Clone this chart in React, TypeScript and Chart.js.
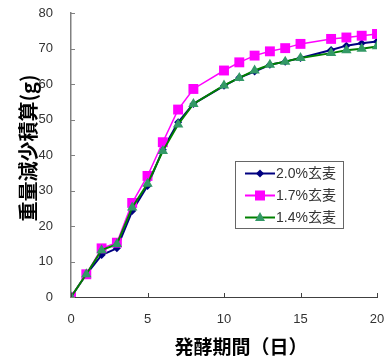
import { useEffect, useRef } from 'react';
import { Chart, registerables } from 'chart.js';

Chart.register(...registerables);

const days = [0, 1, 2, 3, 4, 5, 6, 7, 8, 10, 11, 12, 13, 14, 15, 17, 18, 19, 20];
const series20 = [0, 6.4, 11.8, 13.7, 24.2, 31.3, 41.5, 49.2, 54.4, 59.5, 61.8, 63.5, 65.4, 66.3, 67.3, 69.6, 70.8, 71.5, 72.0];
const series17 = [0, 6.4, 13.7, 15.3, 26.5, 34.1, 43.6, 52.8, 58.6, 63.8, 66.1, 68.0, 69.2, 70.1, 71.3, 72.7, 73.1, 73.6, 74.1];
const series14 = [0, 6.4, 13.2, 14.9, 25.2, 31.9, 41.1, 48.6, 54.4, 59.6, 61.7, 63.8, 65.4, 66.3, 67.3, 68.7, 69.5, 69.9, 70.6];
const seriesLabels = ['2.0%玄麦', '1.7%玄麦', '1.4%玄麦'];
const xTicks = [0, 5, 10, 15, 20];
const yTicks = [0, 10, 20, 30, 40, 50, 60, 70, 80];
const xTitle = '発酵期間（日）';
const yTitle = '重量減少積算(g)';

const styles = [
  { line: '#000080', fill: '#000080', shape: 'diamond' },
  { line: '#FF00FF', fill: '#FF00FF', shape: 'square' },
  { line: '#008000', fill: '#339966', shape: 'triangle' },
];

function drawMarker(ctx: CanvasRenderingContext2D, shape: string, cx: number, cy: number, fill: string) {
  ctx.fillStyle = fill;
  ctx.beginPath();
  if (shape === 'diamond') {
    ctx.moveTo(cx, cy - 4); ctx.lineTo(cx + 4, cy); ctx.lineTo(cx, cy + 4); ctx.lineTo(cx - 4, cy);
  } else if (shape === 'square') {
    ctx.rect(cx - 5, cy - 5, 10, 10);
  } else {
    ctx.moveTo(cx, cy - 5.5); ctx.lineTo(cx + 5, cy + 3.5); ctx.lineTo(cx - 5, cy + 3.5);
  }
  ctx.closePath();
  ctx.fill();
}

const overlay = {
  id: 'overlay',
  afterDraw(chart: any) {
    const ctx: CanvasRenderingContext2D = chart.ctx;
    const xs = chart.scales.x;
    const ys = chart.scales.y;
    const area = chart.chartArea;
    ctx.save();
    ctx.lineWidth = 1;
    ctx.strokeStyle = '#808080';
    yTicks.forEach((v) => {
      const py = Math.round(ys.getPixelForValue(v)) + 0.5;
      ctx.beginPath(); ctx.moveTo(area.left, py); ctx.lineTo(area.left + 4, py); ctx.stroke();
    });
    ctx.strokeStyle = '#404040';
    xTicks.forEach((v) => {
      const px = Math.round(xs.getPixelForValue(v)) + 0.5;
      ctx.beginPath(); ctx.moveTo(px, area.bottom); ctx.lineTo(px, area.bottom - 4); ctx.stroke();
    });

    // titles
    ctx.fillStyle = '#000';
    ctx.textAlign = 'center';
    ctx.textBaseline = 'middle';
    ctx.font = 'bold 19px "Noto Sans CJK JP"';
    ctx.fillText(xTitle, area.left + area.width / 2 + 17, 347);
    ctx.save();
    ctx.translate(28, 148);
    ctx.rotate(-Math.PI / 2);
    ctx.font = 'bold 20px "Noto Sans CJK JP"';
    ctx.fillText(yTitle, 0, 0);
    ctx.restore();

    // legend
    const bx = 235.5, by = 161.5, bw = 108, bh = 67;
    ctx.fillStyle = '#fff';
    ctx.fillRect(bx, by, bw, bh);
    ctx.strokeStyle = '#666';
    ctx.strokeRect(bx, by, bw, bh);
    ctx.textAlign = 'left';
    ctx.font = '14px "Liberation Sans", "Noto Sans CJK JP"';
    seriesLabels.forEach((lab, i) => {
      const cy = 173.5 + i * 22;
      const st = styles[i];
      ctx.strokeStyle = st.line;
      ctx.lineWidth = 2;
      ctx.beginPath(); ctx.moveTo(245, cy); ctx.lineTo(275, cy); ctx.stroke();
      drawMarker(ctx, st.shape, 260, cy, st.fill);
      ctx.fillStyle = '#333';
      ctx.fillText(lab, 276, cy + 1);
    });
    ctx.restore();
  },
};

export default function App() {
  const ref = useRef<HTMLCanvasElement>(null);
  useEffect(() => {
    if (!ref.current) return;
    const mk = (vals: number[]) => days.map((d, i) => ({ x: d, y: vals[i] }));
    const chart = new Chart(ref.current, {
      type: 'line',
      data: {
        datasets: [
          {
            label: seriesLabels[0], data: mk(series20), borderColor: '#000080', backgroundColor: '#000080',
            pointStyle: 'rectRot', pointRadius: 4, borderWidth: 2, pointBorderWidth: 0, order: 2,
          },
          {
            label: seriesLabels[1], data: mk(series17), borderColor: '#FF00FF', backgroundColor: '#FF00FF',
            pointStyle: 'rect', pointRadius: 7, borderWidth: 1.5, pointBorderWidth: 0, order: 1,
          },
          {
            label: seriesLabels[2], data: mk(series14), borderColor: '#008000', backgroundColor: '#339966',
            pointStyle: 'triangle', pointRadius: 6, borderWidth: 2, pointBorderWidth: 0, order: 0,
          },
        ],
      },
      options: {
        animation: false,
        responsive: false,
        layout: { padding: { left: 0, top: 13, right: 15, bottom: 0 } },
        plugins: { legend: { display: false }, tooltip: { enabled: false } },
        elements: { line: { tension: 0 } },
        scales: {
          x: {
            type: 'linear', min: 0, max: 20,
            afterFit: (s: any) => { s.height = 67; s.paddingLeft = 0; s.paddingRight = 0; },
            afterBuildTicks: (s: any) => { s.ticks = xTicks.map((v) => ({ value: v })); },
            grid: { display: false, drawTicks: false },
            border: { display: true, color: '#404040', width: 1 },
            ticks: { padding: 15, color: '#333', font: { family: '"Liberation Sans"', size: 13 }, maxRotation: 0 },
          },
          y: {
            type: 'linear', min: 0, max: 80,
            afterFit: (s: any) => { s.width = 71; s.paddingTop = 0; s.paddingBottom = 0; },
            afterBuildTicks: (s: any) => { s.ticks = yTicks.map((v) => ({ value: v })); },
            grid: { display: false, drawTicks: false },
            border: { display: true, color: '#808080', width: 1.5 },
            ticks: { padding: 18, color: '#333', font: { family: '"Liberation Sans"', size: 13 } },
          },
        },
      },
      plugins: [overlay],
    });
    return () => chart.destroy();
  }, []);
  return (
    <div style={{ position: 'absolute', left: 0, top: 0, width: 392, height: 364 }}>
      <canvas ref={ref} width={392} height={364} />
    </div>
  );
}
